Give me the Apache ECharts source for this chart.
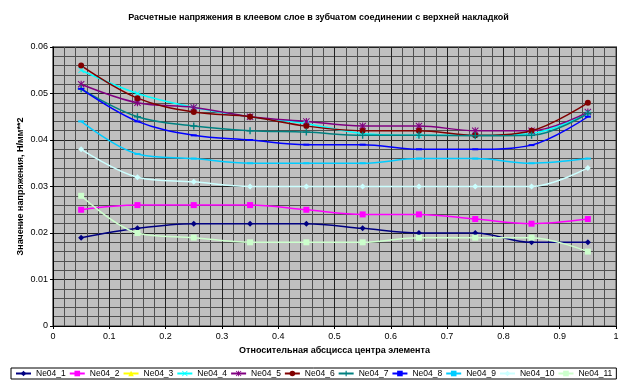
<!DOCTYPE html>
<html><head><meta charset="utf-8">
<script src="https://cdn.jsdelivr.net/npm/echarts@6/dist/echarts.min.js"></script>
<style>html,body{margin:0;padding:0;background:#fff}#c{width:637px;height:383px}</style>
</head><body><div id="c"></div>
<script>
var xValues = [0.05, 0.15, 0.25, 0.35, 0.45, 0.55, 0.65, 0.75, 0.85, 0.95];
var seriesNames = ['Ne04_1','Ne04_2','Ne04_3','Ne04_4','Ne04_5','Ne04_6','Ne04_7','Ne04_8','Ne04_9','Ne04_10','Ne04_11'];
var ne04_1  = [0.019, 0.021, 0.022, 0.022, 0.022, 0.021, 0.020, 0.020, 0.018, 0.018];
var ne04_2  = [0.025, 0.026, 0.026, 0.026, 0.025, 0.024, 0.024, 0.023, 0.022, 0.023];
var ne04_3  = [];
var ne04_4  = [0.055, 0.050, 0.047, 0.045, 0.0435, 0.0414, 0.041, 0.041, 0.0414, 0.0457];
var ne04_5  = [0.052, 0.048, 0.047, 0.045, 0.044, 0.043, 0.043, 0.042, 0.042, 0.046];
var ne04_6  = [0.056, 0.049, 0.046, 0.045, 0.043, 0.042, 0.042, 0.041, 0.042, 0.048];
var ne04_7  = [0.051, 0.045, 0.043, 0.042, 0.0417, 0.041, 0.041, 0.0409, 0.041, 0.0457];
var ne04_8  = [0.051, 0.044, 0.041, 0.040, 0.039, 0.039, 0.038, 0.038, 0.0389, 0.045];
var ne04_9  = [0.044, 0.037, 0.036, 0.035, 0.035, 0.035, 0.036, 0.036, 0.035, 0.036];
var ne04_10 = [0.038, 0.032, 0.031, 0.030, 0.030, 0.030, 0.030, 0.030, 0.030, 0.034];
var ne04_11 = [0.028, 0.020, 0.019, 0.018, 0.018, 0.018, 0.019, 0.019, 0.019, 0.016];
var yTicks = [0, 0.01, 0.02, 0.03, 0.04, 0.05, 0.06];
var xTicks = [0, 0.1, 0.2, 0.3, 0.4, 0.5, 0.6, 0.7, 0.8, 0.9, 1];

var allData = [ne04_1, ne04_2, ne04_3, ne04_4, ne04_5, ne04_6, ne04_7, ne04_8, ne04_9, ne04_10, ne04_11];
var colors = ['#000080','#FF00FF','#FFFF00','#00FFFF','#800080','#800000','#008080','#0000FF','#00CCFF','#CCFFFF','#CCFFCC'];
var X = 'path://M0,1L1,0L5,4L9,0L10,1L6,5L10,9L9,10L5,6L1,10L0,9L4,5Z';
var STAR = 'path://M0,1L1,0L5,4L9,0L10,1L6,5L10,9L9,10L5,6L1,10L0,9L4,5ZM4.2,0L5.8,0L5.8,10L4.2,10Z';
var PLUS = 'path://M4,0L6,0L6,4L10,4L10,6L6,6L6,10L4,10L4,6L0,6L0,4L4,4Z';
var symbols = ['diamond','rect','triangle',X,STAR,'circle',PLUS,'rect','rect','diamond','rect'];
var sizes = [6,6,6,6,7,6,7,[6,2],[6,2],6,6];

function pairs(arr){ return arr.map(function(v,i){ return [xValues[i], v]; }); }

var series = seriesNames.map(function(n, i){
  return {
    name: n, type: 'line', smooth: 0.35,
    data: pairs(allData[i]),
    symbol: symbols[i], symbolSize: sizes[i], showSymbol: true,
    lineStyle: {color: colors[i], width: 1.5},
    itemStyle: {color: colors[i]},
    emphasis: {disabled: true}, animation: false
  };
});

var chart = echarts.init(document.getElementById('c'), null, {renderer: 'canvas'});
chart.setOption({
  backgroundColor: '#fff',
  animation: false,
  title: {
    text: 'Расчетные напряжения в клеевом слое в зубчатом соединении с верхней накладкой',
    left: 'center', top: 8,
    textStyle: {fontFamily: 'Liberation Sans, Arial', fontSize: 9, fontWeight: 'bold', color: '#000'}
  },
  grid: {left: 53, right: 21, top: 47, bottom: 57, show: true, backgroundColor: '#C0C0C0', borderColor: '#808080', borderWidth: 2},
  xAxis: {
    type: 'value', min: 0, max: 1, interval: 0.1,
    name: 'Относительная абсцисса центра элемента', nameLocation: 'middle', nameGap: 20,
    nameTextStyle: {fontFamily: 'Liberation Sans, Arial', fontSize: 9, fontWeight: 'bold', color: '#000'},
    axisLine: {lineStyle: {color: '#000', width: 1}},
    axisTick: {show: true, length: 3, lineStyle: {color: '#000'}},
    axisLabel: {fontFamily: 'Liberation Sans, Arial', fontSize: 9, color: '#000', margin: 6,
      formatter: function(v){ var s = Math.round(v*10)/10; return xTicks.indexOf(s) >= 0 ? String(s) : ''; }},
    splitLine: {show: true, lineStyle: {color: '#222', width: 1}},
    minorTick: {show: false, splitNumber: 5},
    minorSplitLine: {show: true, lineStyle: {color: '#505050', width: 1}}
  },
  yAxis: {
    type: 'value', min: 0, max: 0.06, interval: 0.01,
    name: 'Значение напряжения, Н/мм**2', nameLocation: 'middle', nameGap: 28,
    nameMoveOverlap: false,
    nameTextStyle: {fontFamily: 'Liberation Sans, Arial', fontSize: 9, fontWeight: 'bold', color: '#000'},
    axisLine: {show: true, lineStyle: {color: '#000', width: 1}},
    axisTick: {show: true, length: 3, lineStyle: {color: '#000'}},
    axisLabel: {fontFamily: 'Liberation Sans, Arial', fontSize: 9, color: '#000', margin: 5,
      formatter: function(v){ var s = Math.round(v*100)/100; return yTicks.indexOf(s) >= 0 ? String(s) : ''; }},
    splitLine: {show: true, lineStyle: {color: '#222', width: 1}},
    minorTick: {show: false, splitNumber: 5},
    minorSplitLine: {show: true, lineStyle: {color: '#505050', width: 1}}
  },
  legend: {
    data: seriesNames, left: 11, top: 368, width: 625,
    orient: 'horizontal',
    borderColor: '#000', borderWidth: 1, padding: [1, 4],
    itemWidth: 15, itemHeight: 7, itemGap: 3,
    textStyle: {fontFamily: 'Liberation Sans, Arial', fontSize: 8.5, color: '#000'},
    selectedMode: false
  },
  series: series
});
</script>
</body></html>
